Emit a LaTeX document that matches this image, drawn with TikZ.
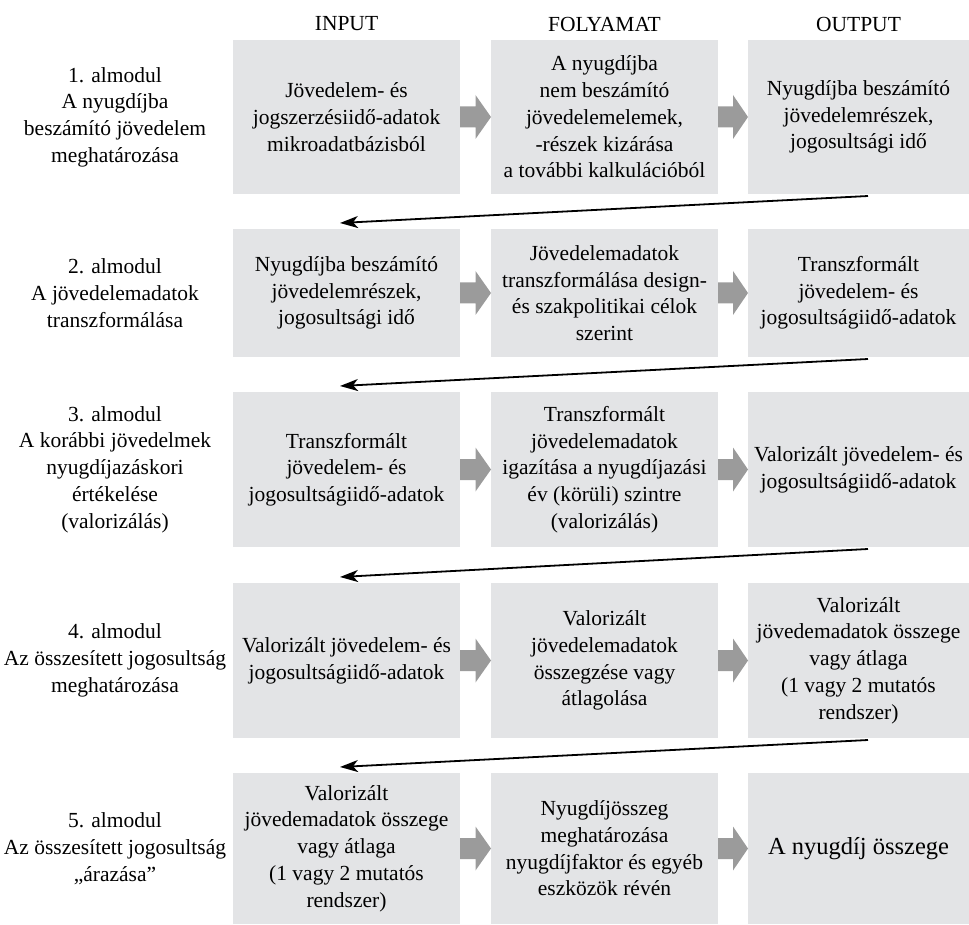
\documentclass[tikz,border=0pt]{standalone}
\usepackage{fontspec}
\setmainfont{Liberation Serif}
\usetikzlibrary{calc,arrows.meta}
\definecolor{boxgray}{HTML}{E3E4E6}
\definecolor{arrgray}{HTML}{9B9B9B}
\begin{document}
\begin{tikzpicture}[x=1pt,y=-1pt,
  txt/.style={font=\fontsize{21.5}{26.7}\selectfont, align=center, inner sep=0pt, outer sep=0pt},
  box/.style={txt, fill=boxgray},
  colA/.style={minimum width=227pt},
  colB/.style={minimum width=227pt},
  colC/.style={minimum width=221pt},
  conn/.style={line width=1.8pt, -{Stealth[length=18pt,width=12pt,inset=5pt]}},
  blockarrow/.style={fill=arrgray}]
\useasboundingbox (0,0) rectangle (969,925);
% headers
\node[txt] (hin) at (346.5,24) {INPUT};
\node[txt] (hfo) at (604.5,24) {FOLYAMAT};
\node[txt] (hout) at (858.5,24) {OUTPUT};
% row labels
\node[txt] (l1) at (115,117) {1. almodul\\A nyugdíjba\\beszámító jövedelem\\meghatározása};
\node[txt] (l2) at (115,293) {2. almodul\\A jövedelemadatok\\transzformálása};
\node[txt] (l3) at (115,469.5) {3. almodul\\A korábbi jövedelmek\\nyugdíjazáskori\\értékelése\\(valorizálás)};
\node[txt] (l4) at (115,660.5) {4. almodul\\Az összesített jogosultság\\meghatározása};
\node[txt] (l5) at (115,848.5) {5. almodul\\Az összesített jogosultság\\„árazása”};
% row 1
\node[box,colA,minimum height=154pt] (r1c1) at (346.5,117) {Jövedelem- és\\jogszerzésiidő-adatok\\mikroadatbázisból};
\node[box,colB,minimum height=154pt] (r1c2) at (604.5,117) {A nyugdíjba\\nem beszámító\\jövedelemelemek,\\-részek kizárása\\a további kalkulációból};
\node[box,colC,minimum height=154pt] (r1c3) at (858.5,117) {Nyugdíjba beszámító\\jövedelemrészek,\\jogosultsági idő};
% row 2
\node[box,colA,minimum height=128pt] (r2c1) at (346.5,293) {Nyugdíjba beszámító\\jövedelemrészek,\\jogosultsági idő};
\node[box,colB,minimum height=128pt] (r2c2) at (604.5,293) {Jövedelemadatok\\transzformálása design-\\és szakpolitikai célok\\szerint};
\node[box,colC,minimum height=128pt] (r2c3) at (858.5,293) {Transzformált\\jövedelem- és\\jogosultságiidő-adatok};
% row 3
\node[box,colA,minimum height=155pt] (r3c1) at (346.5,469.5) {Transzformált\\jövedelem- és\\jogosultságiidő-adatok};
\node[box,colB,minimum height=155pt] (r3c2) at (604.5,469.5) {Transzformált\\jövedelemadatok\\igazítása a nyugdíjazási\\év (körüli) szintre\\(valorizálás)};
\node[box,colC,minimum height=155pt] (r3c3) at (858.5,469.5) {Valorizált jövedelem- és\\jogosultságiidő-adatok};
% row 4
\node[box,colA,minimum height=155pt] (r4c1) at (346.5,660.5) {Valorizált jövedelem- és\\jogosultságiidő-adatok};
\node[box,colB,minimum height=155pt] (r4c2) at (604.5,660.5) {Valorizált\\jövedelemadatok\\összegzése vagy\\átlagolása};
\node[box,colC,minimum height=155pt] (r4c3) at (858.5,660.5) {Valorizált\\jövedemadatok összege\\vagy átlaga\\(1 vagy 2 mutatós\\rendszer)};
% row 5
\node[box,colA,minimum height=151pt] (r5c1) at (346.5,848.5) {Valorizált\\jövedemadatok összege\\vagy átlaga\\(1 vagy 2 mutatós\\rendszer)};
\node[box,colB,minimum height=151pt] (r5c2) at (604.5,848.5) {Nyugdíjösszeg\\meghatározása\\nyugdíjfaktor és egyéb\\eszközök révén};
\node[box,colC,minimum height=151pt,font=\fontsize{24.5}{30}\selectfont] (r5c3) at (858.5,848.5) {A nyugdíj összege};
% block arrows
\foreach \r in {1,...,5}{
  \foreach \a/\b in {c1/c2,c2/c3}{
    \fill[blockarrow] ($(r\r\a.east)+(0,-10.5)$) -- ($($(r\r\a.east)!0.5!(r\r\b.west)$)+(0,-10.5)$)
      -- ($($(r\r\a.east)!0.5!(r\r\b.west)$)+(0,-22)$) -- (r\r\b.west)
      -- ($($(r\r\a.east)!0.5!(r\r\b.west)$)+(0,22)$) -- ($($(r\r\a.east)!0.5!(r\r\b.west)$)+(0,10.5)$)
      -- ($(r\r\a.east)+(0,10.5)$) -- cycle;
  }
}
% connectors between rows
\foreach \r/\n in {1/2,2/3,3/4,4/5}{
  \coordinate (s\r) at ($(r\r c3.south west)+(120,2)$);
  \coordinate (e\r) at ($(r\n c1.north west)+(107,-6)$);
  \draw[conn] (s\r) -- (e\r);
}
\end{tikzpicture}
\end{document}
